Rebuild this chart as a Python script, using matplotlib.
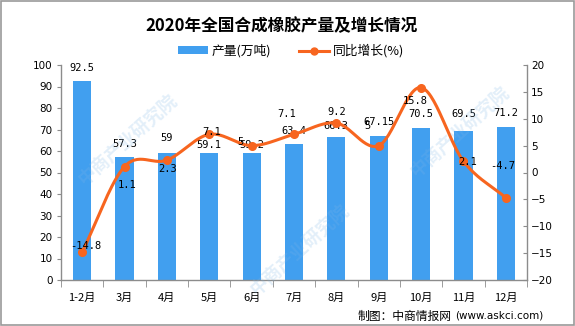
import numpy as np
import matplotlib
matplotlib.use("Agg")
import matplotlib.pyplot as plt
from matplotlib.patches import Rectangle
from matplotlib.lines import Line2D
from matplotlib.patches import Patch

plt.rcParams['font.family'] = ['Noto Sans CJK SC', 'DejaVu Sans']

# ---- data ----
months = ["1-2月", "3月", "4月", "5月", "6月", "7月", "8月", "9月", "10月", "11月", "12月"]
output = [92.5, 57.3, 59, 59.1, 59.2, 63.4, 66.3, 67.15, 70.5, 69.5, 71.2]
growth = [-14.8, 1.1, 2.3, 7.1, 5, 7.1, 9.2, 5, 15.8, 2.1, -4.7]
left_ticks = list(range(0, 101, 10))
right_ticks = list(range(-20, 21, 5))

# label placement (pixel offsets from the mark)
bar_label_dy = [8, 8, 10, 3, 3, 8, 6, 9, 9, 12, 9]
growth_label_dx = [4, 3, 1, 2, -11, -7, 0, -11, -6, 4, -3]
growth_label_dy = [6, -18, -9, 2, 4, 20, 11, 20, -13, -1, 32]

BLUE = "#419FEF"
ORANGE = "#F7651F"
GRAY = "#8c8c8c"
PX = 72 / 100  # points per pixel


def fmt(v):
    return f"{v:.2f}".rstrip("0").rstrip(".")


def catmull_rom(x, y, n=30):
    x = np.asarray(x, float)
    y = np.asarray(y, float)
    px = np.concatenate([[2 * x[0] - x[1]], x, [2 * x[-1] - x[-2]]])
    py = np.concatenate([[2 * y[0] - y[1]], y, [2 * y[-1] - y[-2]]])
    xs, ys = [], []
    for i in range(1, len(px) - 2):
        t = np.linspace(0, 1, n, endpoint=False)
        f = lambda a0, a1, a2, a3: 0.5 * ((2 * a1) + (-a0 + a2) * t +
                                           (2 * a0 - 5 * a1 + 4 * a2 - a3) * t ** 2 +
                                           (-a0 + 3 * a1 - 3 * a2 + a3) * t ** 3)
        xs.append(f(px[i - 1], px[i], px[i + 1], px[i + 2]))
        ys.append(f(py[i - 1], py[i], py[i + 1], py[i + 2]))
    xs.append([x[-1]])
    ys.append([y[-1]])
    return np.concatenate(xs), np.concatenate(ys)


fig = plt.figure(figsize=(5.75, 3.26), dpi=100)
ax = fig.add_axes([61 / 575, 1 - 280 / 326, (527 - 61) / 575, (280 - 65) / 326])
ax2 = ax.twinx()

x = np.arange(len(months))
ax.bar(x, output, width=0.43, color=BLUE, zorder=2)
ax.set_xlim(-0.5, len(months) - 0.5)
ax.set_ylim(0, 100)
ax.set_yticks(left_ticks)
ax2.set_ylim(-20, 20)
ax2.set_yticks(right_ticks)

for a in (ax, ax2):
    a.spines["top"].set_visible(False)
    for s in ("left", "right", "bottom"):
        a.spines[s].set_color(GRAY)
        a.spines[s].set_linewidth(1)
ax2.spines["left"].set_visible(False)
ax2.spines["bottom"].set_visible(False)
ax.spines["right"].set_visible(False)

ax.tick_params(axis="y", length=3, color=GRAY, labelsize=7.5, pad=3)
ax2.tick_params(axis="y", length=3, color=GRAY, labelsize=7.5, pad=3, direction="in")
for lab in ax.get_yticklabels() + ax2.get_yticklabels():
    lab.set_fontfamily("DejaVu Sans")
ax2.set_yticklabels([str(t).replace("-", "\u2212") for t in right_ticks])

ax.set_xticks(x)
ax.set_xticklabels(months, fontsize=8)
ax.tick_params(axis="x", length=0, pad=9)
ax.set_xticks(np.arange(len(months) + 1) - 0.5, minor=True)
ax.tick_params(axis="x", which="minor", length=5, color=GRAY, direction="out")

# smoothed growth line
sx, sy = catmull_rom(x, growth)
ax2.plot(sx, sy, color=ORANGE, lw=2.2, zorder=4, solid_capstyle="round")
ax2.plot(x, growth, "o", color=ORANGE, ms=5.5, zorder=5)

mono = ["DejaVu Sans Mono"]
for xi, v, dy in zip(x, output, bar_label_dy):
    ax.annotate(fmt(v), (xi, v), xytext=(0, dy * PX), textcoords="offset points",
                ha="center", va="bottom", fontsize=7.5, family=mono, zorder=6,
                annotation_clip=False)
for xi, g, dx, dy in zip(x, growth, growth_label_dx, growth_label_dy):
    ax2.annotate(fmt(g), (xi, g), xytext=(dx * PX, dy * PX), textcoords="offset points",
                 ha="center", va="center", fontsize=7.5, family=mono, zorder=6)

# title and legend
fig.text(281 / 575, 1 - 26 / 326, "2020年全国合成橡胶产量及增长情况", ha="center", va="center",
         fontsize=12, fontweight="bold")
handles = [Patch(facecolor=BLUE, edgecolor="none"),
           Line2D([0], [0], color=ORANGE, lw=2.2, marker="o", ms=5)]
fig.legend(handles, ["产量(万吨)", "同比增长(%)"], loc="center", ncol=2,
           bbox_to_anchor=(291 / 575, 1 - 51 / 326), frameon=False, fontsize=9.2,
           handlelength=2.3, handleheight=0.6, columnspacing=2.2, handletextpad=0.3)

# source note
fig.text(358 / 575, 1 - 316 / 326, "制图：中商情报网", ha="left", va="center", fontsize=8.5)
fig.text(455 / 575, 1 - 316 / 326, "(www.askci.com)", ha="left", va="center", fontsize=7.5,
         family=["DejaVu Sans"])

# watermark
for (wx, wy) in [(128, 140), (300, 250), (460, 132)]:
    fig.text(wx / 575, 1 - wy / 326, "中商产业研究院", ha="center", va="center",
             rotation=42, fontsize=13, color="#7fb6e6", alpha=0.22, fontweight="bold",
             zorder=10)

# outer frame
fig.patches.append(Rectangle((0.001, 0.002), 0.997, 0.995, transform=fig.transFigure,
                             fill=False, edgecolor="#999999", lw=1.2))

fig.savefig("out.png", dpi=100)
